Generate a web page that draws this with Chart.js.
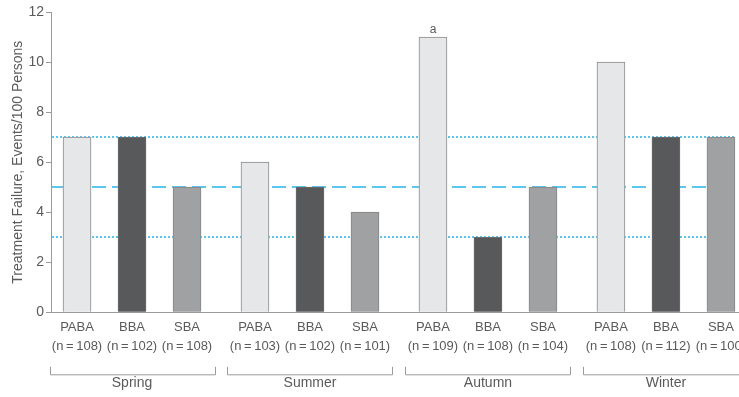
<!DOCTYPE html>
<html><head><meta charset="utf-8">
<script src="https://cdn.jsdelivr.net/npm/chart.js@4/dist/chart.umd.min.js"></script>
<style>
html,body{margin:0;padding:0;overflow:hidden;background:#fff;width:739px;height:397px}
#wrap{position:absolute;left:0;top:0;width:760px;height:397px}
</style>
</head><body><div id="wrap"><canvas id="c" width="760" height="397"></canvas></div>
<script>
// ---- data ----
const seasons = ["Spring", "Summer", "Autumn", "Winter"];
const drugs = ["PABA", "BBA", "SBA"];
const pabaValues = [7, 6, 11, 10];
const bbaValues = [7, 5, 3, 7];
const sbaValues = [5, 4, 5, 7];
const pabaN = [108, 103, 109, 108];
const bbaN = [102, 102, 108, 112];
const sbaN = [108, 101, 104, 100];
const yTicks = [0, 2, 4, 6, 8, 10, 12];
const refLines = [
  { value: 7, style: "dotted" },
  { value: 5, style: "dashed" },
  { value: 3, style: "dotted" }
];
const footnotes = [{ drug: 0, season: 2, text: "a" }];
const yTitle = "Treatment Failure, Events/100 Persons";

// ---- layout helpers ----
const GROUP_GAP = 0.236;
const pos = (g, i) => g * (3 + GROUP_GAP) + i;
const seriesValues = [pabaValues, bbaValues, sbaValues];
const seriesN = [pabaN, bbaN, sbaN];
const tickPositions = [];
const tickLabels = [];
seasons.forEach((s, g) => drugs.forEach((d, i) => {
  tickPositions.push(pos(g, i));
  tickLabels.push([d, "(n\u2009=\u2009" + seriesN[i][g] + ")"]);
}));

const fills = ["#e6e7e8", "#58595b", "#a0a1a3"];
const borders = ["#8a8a8a", "#6a6b6d", "#858585"];
const FONT = "'Liberation Sans', Arial, sans-serif";
const TEXT = "#5a5a5a";

const datasets = drugs.map((d, i) => ({
  label: d,
  data: seasons.map((s, g) => ({ x: pos(g, i), y: seriesValues[i][g] })),
  backgroundColor: fills[i],
  borderColor: borders[i],
  borderWidth: 1,
  barThickness: 28,
  grouped: false
}));

const decor = {
  id: "decor",
  beforeDatasetsDraw(chart) {
    const { ctx, chartArea, scales } = chart;
    const y = scales.y, x = scales.x;
    const right = x.getPixelForValue(tickPositions[tickPositions.length - 1]) + 14;
    ctx.save();
    ctx.strokeStyle = "#5bc6ee";
    ctx.lineWidth = 2;
    refLines.forEach(r => {
      ctx.setLineDash(r.style === "dashed" ? [14, 6] : [2, 2]);
      const py = Math.round(y.getPixelForValue(r.value));
      ctx.beginPath();
      ctx.moveTo(chartArea.left + 1, py);
      ctx.lineTo(right, py);
      ctx.stroke();
    });
    ctx.restore();
  },
  afterDraw(chart) {
    const { ctx, chartArea, scales } = chart;
    const x = scales.x, y = scales.y;
    ctx.save();
    ctx.fillStyle = TEXT;
    ctx.font = "12px " + FONT;
    ctx.textAlign = "center";
    ctx.textBaseline = "middle";
    footnotes.forEach(f => {
      const px = x.getPixelForValue(pos(f.season, f.drug));
      const py = y.getPixelForValue(seriesValues[f.drug][f.season]);
      ctx.fillText(f.text, px, py - 7);
    });
    const by = chartArea.bottom + 62.5;
    ctx.strokeStyle = "#9a9a9a";
    ctx.lineWidth = 1;
    ctx.font = "14px " + FONT;
    ctx.textBaseline = "middle";
    seasons.forEach((s, g) => {
      const x0 = Math.round(x.getPixelForValue(pos(g, 0) - 0.5)) + 0.5;
      const x1 = Math.round(x.getPixelForValue(pos(g, 2) + 0.5)) + 0.5;
      ctx.beginPath();
      ctx.moveTo(x0, by - 8);
      ctx.lineTo(x0, by);
      ctx.lineTo(x1, by);
      ctx.lineTo(x1, by - 8);
      ctx.stroke();
      ctx.fillText(s, x.getPixelForValue(pos(g, 1)), chartArea.bottom + 71);
    });
    ctx.restore();
  }
};

new Chart(document.getElementById("c"), {
  type: "bar",
  data: { datasets },
  plugins: [decor],
  options: {
    responsive: false,
    animation: false,
    layout: { padding: { top: 12, bottom: 35, left: 0, right: 0 } },
    plugins: { legend: { display: false }, tooltip: { enabled: false } },
    scales: {
      x: {
        type: "linear",
        offset: false,
        min: -0.473,
        max: -0.473 + (760 - 51) / 55,
        afterBuildTicks: axis => { axis.ticks = tickPositions.map(v => ({ value: v })); },
        grid: { display: false, drawTicks: false, offset: false },
        border: { color: "#9a9a9a", width: 1 },
        ticks: {
          autoSkip: false, maxRotation: 0, minRotation: 0, padding: 6,
          color: TEXT, font: { family: FONT, size: 13, lineHeight: 1.45 },
          callback: (v, i) => tickLabels[i]
        }
      },
      y: {
        min: 0, max: 12,
        afterBuildTicks: axis => { axis.ticks = yTicks.map(v => ({ value: v })); },
        afterFit: axis => { axis.width = 51; },
        grid: { drawOnChartArea: false, drawTicks: true, tickLength: 5, color: "#9a9a9a" },
        border: { color: "#9a9a9a", width: 1 },
        ticks: { padding: 2, color: TEXT, font: { family: FONT, size: 14 } },
        title: {
          display: true, text: yTitle, color: TEXT,
          font: { family: FONT, size: 14 }, padding: { top: 10, bottom: 0 }
        }
      }
    }
  }
});
</script>
</body></html>
